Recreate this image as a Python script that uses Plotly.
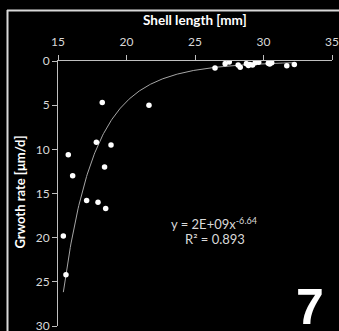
import numpy as np
import plotly.graph_objects as go

# Data
shell_length = [18.23, 21.64, 26.46, 27.2, 27.5, 28.15, 28.3, 28.75, 28.9, 29.0, 29.2, 29.4,
                29.65, 30.35, 30.45, 30.6, 31.7, 32.25, 17.8, 18.87, 15.75, 18.4, 16.07,
                17.09, 17.92, 18.48, 15.39, 15.58]
growth_rate = [4.7, 5.0, 0.8, 0.3, 0.1, 0.45, 0.7, 0.3, 0.5, 0.4, 0.45, 0.2,
               0.15, 0.25, 0.35, 0.2, 0.55, 0.4, 9.2, 9.5, 10.6, 12.0, 13.0,
               15.8, 16.0, 16.7, 19.8, 24.2]
fit_coef = 2e9
fit_exp = -6.64
x_ticks = [15, 20, 25, 30, 35]
y_ticks = [0, 5, 10, 15, 20, 25, 30]
panel_label = "7"

W, H = 339, 331
ml, mr, mt, mb = 7, 0, 10, 0          # outer frame area
pw, ph = W - ml - mr, H - mt - mb

def px_x(p):
    return (p - ml) / pw

def px_y(p):
    return 1 - (p - mt) / ph

# inner plot box in page pixels
PX0, PX1, PY0, PY1 = 58, 332, 61, 326

FONT = "Lato"
TXT = "#d9d9d9"

fx = np.linspace(min(shell_length), max(shell_length), 300)
fy = fit_coef * fx ** fit_exp

fig = go.Figure()
fig.add_trace(go.Scatter(x=fx, y=fy, mode="lines",
                         line=dict(color="#a6a6a6", width=1), hoverinfo="skip"))
fig.add_trace(go.Scatter(x=shell_length, y=growth_rate, mode="markers",
                         marker=dict(color="white", size=5.5, line=dict(width=0))))

fig.update_layout(
    width=W, height=H,
    margin=dict(l=ml, r=mr, t=mt, b=mb, autoexpand=False),
    paper_bgcolor="black", plot_bgcolor="black",
    showlegend=False,
    font=dict(family=FONT, color=TXT, size=12),
    xaxis=dict(side="top", range=[15, 35], tickvals=x_ticks, showgrid=False, zeroline=False,
               domain=[px_x(PX0), px_x(PX1)],
               showline=True, linecolor="#bfbfbf", linewidth=1,
               ticks="outside", ticklen=5, tickcolor="#bfbfbf", ticklabeloverflow="allow",
               ticklabelstandoff=4,
               tickfont=dict(size=12, color=TXT, family=FONT), anchor="y"),
    yaxis=dict(range=[30, 0], tickvals=y_ticks, showgrid=False, zeroline=False,
               domain=[px_y(PY1), px_y(PY0)],
               showline=True, linecolor="#bfbfbf", linewidth=1,
               ticks="outside", ticklen=5, tickcolor="#bfbfbf", ticklabeloverflow="allow",
               tickfont=dict(size=12, color=TXT, family=FONT), anchor="x"),
)

fig.add_annotation(text="<b>Shell length [mm]</b>", xref="paper", yref="paper",
                   x=px_x(195), y=px_y(20), xanchor="center", yanchor="middle", showarrow=False,
                   font=dict(size=13.5, color="white", family=FONT))
fig.add_annotation(text="<b>Grwoth rate [μm/d]</b>", xref="paper", yref="paper",
                   x=px_x(19.5), y=px_y(192), xanchor="center", yanchor="middle",
                   showarrow=False, textangle=-90,
                   font=dict(size=13, color="white", family=FONT))
fig.add_annotation(text="y = 2E+09x<sup>-6.64</sup>", xref="paper", yref="paper",
                   x=px_x(214), y=px_y(223), xanchor="center", yanchor="middle", showarrow=False,
                   font=dict(size=13, color=TXT, family=FONT))
fig.add_annotation(text="R² = 0.893", xref="paper", yref="paper",
                   x=px_x(215), y=px_y(239), xanchor="center", yanchor="middle", showarrow=False,
                   font=dict(size=13, color=TXT, family=FONT))
fig.add_annotation(text="<b>" + panel_label + "</b>", xref="paper", yref="paper",
                   x=px_x(310), y=px_y(306.5), xanchor="center", yanchor="middle", showarrow=False,
                   font=dict(size=50, color="white", family="Liberation Sans"))

# partial frame (top and left lines)
fig.add_shape(type="line", xref="paper", yref="paper", layer="above",
              x0=px_x(7), x1=1, y0=px_y(10.5), y1=px_y(10.5),
              line=dict(color="#d9d9d9", width=2))
fig.add_shape(type="line", xref="paper", yref="paper", layer="above",
              x0=px_x(7.5), x1=px_x(7.5), y0=px_y(10), y1=0,
              line=dict(color="#d9d9d9", width=2))

fig.write_html("out.html", config={"displayModeBar": False},
               post_script="document.body.style.margin='0';document.body.style.overflow='hidden';")
